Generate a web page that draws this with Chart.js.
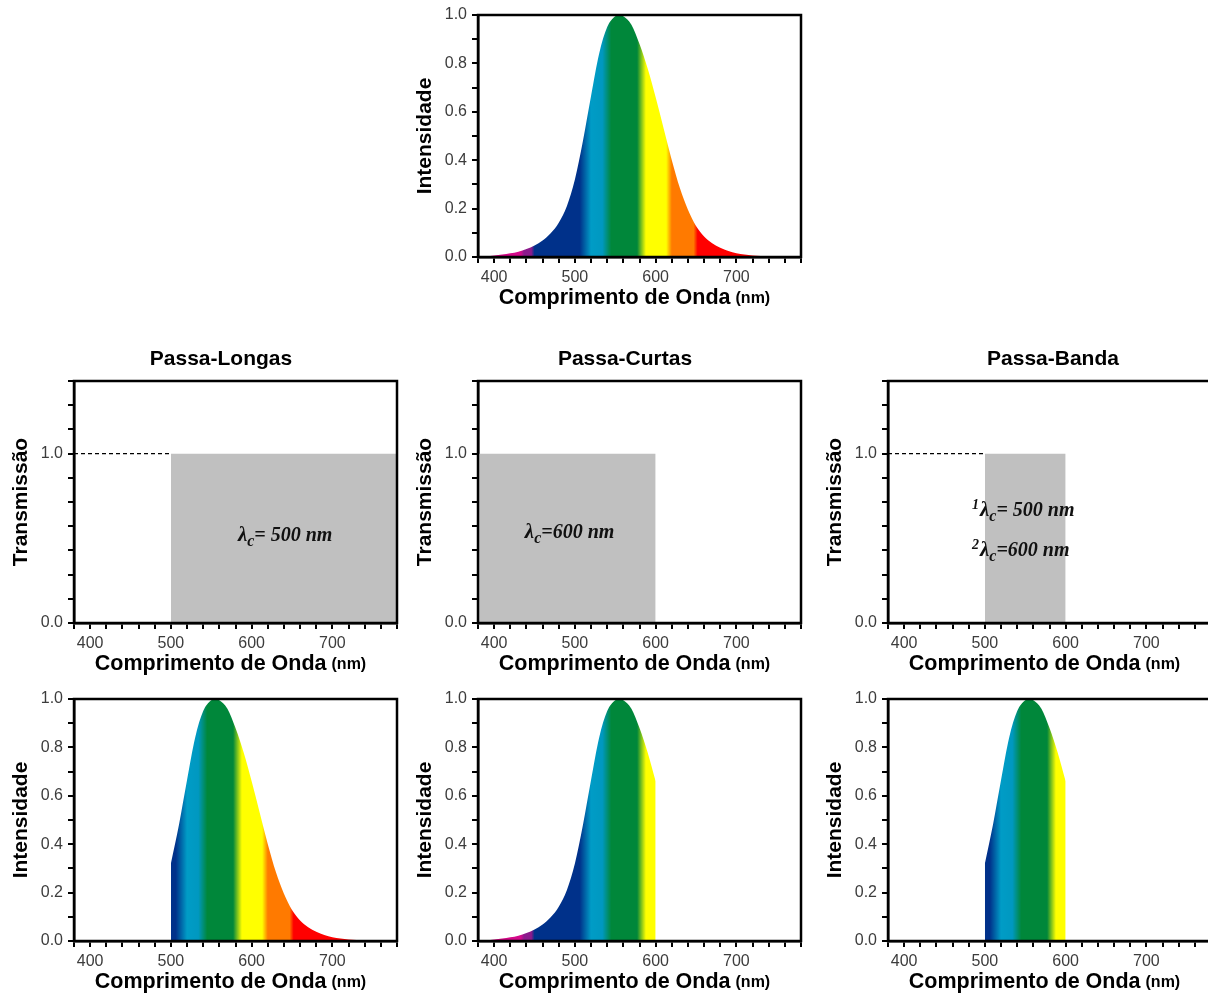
<!DOCTYPE html>
<html>
<head>
<meta charset="utf-8">
<script src="https://cdn.jsdelivr.net/npm/chart.js@4.4.1/dist/chart.umd.min.js"></script>
<style>
    html, body { margin: 0; padding: 0; background: #fff; }
    body { width: 1208px; height: 1000px; overflow: hidden; position: relative; }
    canvas { position: absolute; }
</style>
</head>
<body>
<canvas id="chart-source"></canvas>
<canvas id="chart-long-t"></canvas>
<canvas id="chart-short-t"></canvas>
<canvas id="chart-band-t"></canvas>
<canvas id="chart-long-i"></canvas>
<canvas id="chart-short-i"></canvas>
<canvas id="chart-band-i"></canvas>
<script>
// wavelength (nm) and relative intensity of the source
const wavelengths = [380, 390, 400, 410, 420, 430, 440, 450, 460, 470, 480, 490, 500, 510, 520, 530, 540, 550, 555, 560,
    570, 580, 590, 600, 610, 620, 630, 640, 650, 660, 670, 680, 690, 700, 710, 720, 740, 760, 780];
const intensity = [0.000, 0.003, 0.006, 0.010, 0.015, 0.022, 0.033, 0.048, 0.068, 0.098, 0.142, 0.210, 0.320, 0.480, 0.665, 0.840, 0.950, 0.995, 1.000, 0.995,
    0.960, 0.880, 0.780, 0.660, 0.530, 0.400, 0.285, 0.195, 0.128, 0.085, 0.057, 0.038, 0.025, 0.016, 0.010, 0.006, 0.002, 0.0007, 0.000];

// filter windows (nm) and their transmission
const longPassX = [500, 780];
const shortPassX = [380, 600];
const bandPassX = [500, 600];
const passT = [1, 1];
const refLineX = [380, 500];
const refLineT = [1, 1];

// tick labels
const xLabels = [400, 500, 600, 700];
const intensityLabels = ['0.0', '0.2', '0.4', '0.6', '0.8', '1.0'];
const transTicks = [0, 0.143, 0.286, 0.429, 0.571, 0.714, 0.857, 1.0, 1.143, 1.286, 1.429];
const transLabels = ['0.0', '', '', '', '', '', '', '1.0', '', '', ''];

// colour of the spectrum at each wavelength
const spectrumStops = [
    [380, '#d4007c'], [433, '#d40a8c'], [437, '#8c1a8c'], [446, '#8c1a8c'], [450, '#00318a'],
    [506, '#00318a'], [520, '#009cc6'], [534, '#0098c0'], [545, '#00873a'], [577, '#00873a'],
    [588, '#ffff00'], [613, '#ffff00'], [620, '#ff7a00'], [647, '#ff7a00'], [652, '#ff0000'], [780, '#ff0000']
];

const SANS = '"Liberation Sans", Arial, Helvetica, sans-serif';
const SERIF = '"Liberation Serif", "Times New Roman", serif';
Chart.defaults.font.family = SANS;

const Y_AXIS_W = 70, X_AXIS_H = 60, PAD_L = 4, PAD_R = 10;
const PLOT_W = 323, PLOT_H = 242;

function points(xs, ys) {
    return xs.map((x, i) => ({x, y: ys[i]}));
}

function spectrumPoints(lo, hi) {
    return points(wavelengths, intensity).filter(p => p.x >= lo && p.x <= hi);
}

function spectrumFill(context) {
    const chart = context.chart;
    const xs = chart.scales.x;
    if (!chart.chartArea || !xs) return '#00873a';
    const x0 = xs.getPixelForValue(380);
    const x1 = xs.getPixelForValue(780);
    const g = chart.ctx.createLinearGradient(x0, 0, x1, 0);
    spectrumStops.forEach(([nm, col]) => g.addColorStop((nm - 380) / 400, col));
    return g;
}

const framePlugin = {
    id: 'frame',
    afterDatasetsDraw(chart) {
        const {ctx, chartArea: a} = chart;
        ctx.save();
        ctx.strokeStyle = '#000';
        ctx.lineWidth = 2.5;
        ctx.strokeRect(a.left, a.top, a.right - a.left, a.bottom - a.top);
        ctx.restore();
    }
};

const xTitlePlugin = {
    id: 'xTitle',
    afterDraw(chart) {
        const {ctx, chartArea: a} = chart;
        const main = 'Comprimento de Onda';
        const unit = '(nm)';
        ctx.save();
        ctx.fillStyle = '#000';
        ctx.textBaseline = 'middle';
        ctx.font = 'bold 21.5px ' + SANS;
        const w1 = ctx.measureText(main).width;
        ctx.font = 'bold 16px ' + SANS;
        const w2 = ctx.measureText(unit).width;
        const gap = 5;
        const x = (a.left + a.right) / 2 - (w1 + gap + w2) / 2 - 5;
        const y = a.bottom + 41;
        ctx.font = 'bold 21.5px ' + SANS;
        ctx.fillText(main, x, y);
        ctx.font = 'bold 16px ' + SANS;
        ctx.fillText(unit, x + w1 + gap, y + 1);
        ctx.restore();
    }
};

const panelTitlePlugin = {
    id: 'panelTitle',
    afterDraw(chart, args, opts) {
        if (!opts.text) return;
        const {ctx, chartArea: a} = chart;
        ctx.save();
        ctx.fillStyle = '#000';
        ctx.textAlign = 'center';
        ctx.textBaseline = 'middle';
        ctx.font = 'bold 21px ' + SANS;
        ctx.fillText(opts.text, a.left + opts.dx, a.top - 22);
        ctx.restore();
    }
};

const lambdaPlugin = {
    id: 'lambdaNotes',
    afterDatasetsDraw(chart, args, opts) {
        if (!opts.notes) return;
        const {ctx, scales} = chart;
        ctx.save();
        ctx.fillStyle = '#111';
        ctx.textBaseline = 'alphabetic';
        opts.notes.forEach(n => {
            let x = scales.x.getPixelForValue(n.x);
            const y = scales.y.getPixelForValue(n.y);
            if (n.sup) {
                ctx.font = 'italic bold 14px ' + SERIF;
                ctx.fillText(n.sup, x, y - 7);
                x += ctx.measureText(n.sup).width + 1;
            }
            ctx.font = 'italic bold 21px ' + SERIF;
            ctx.fillText('\u03BB', x, y);
            x += ctx.measureText('\u03BB').width;
            ctx.font = 'italic bold 16px ' + SERIF;
            ctx.fillText('c', x, y + 5);
            x += ctx.measureText('c').width;
            ctx.font = 'italic bold 20px ' + SERIF;
            ctx.fillText(n.text, x, y);
        });
        ctx.restore();
    }
};

function tickFont() {
    return {size: 16};
}

function xScale() {
    return {
        type: 'linear',
        min: 380,
        max: 780,
        afterFit: s => { s.height = X_AXIS_H; },
        border: {display: true, color: '#000', width: 2.5},
        grid: {drawOnChartArea: false, drawTicks: true, tickLength: 6, color: '#000', lineWidth: 2},
        ticks: {
            stepSize: 20,
            autoSkip: false,
            maxRotation: 0,
            padding: 5,
            color: '#3c3c3c',
            font: tickFont(),
            callback: v => xLabels.includes(v) ? String(v) : ''
        }
    };
}

function yTitle(text) {
    return {display: true, text, color: '#000', font: {size: 21, weight: 'bold'}, padding: {top: 5, bottom: 0}};
}

function intensityScale() {
    return {
        min: 0,
        max: 1,
        afterFit: s => { s.width = Y_AXIS_W; },
        border: {display: true, color: '#000', width: 2.5},
        grid: {drawOnChartArea: false, drawTicks: true, tickLength: 6, color: '#000', lineWidth: 2},
        ticks: {
            stepSize: 0.1,
            autoSkip: false,
            padding: 5,
            color: '#3c3c3c',
            font: tickFont(),
            callback: v => {
                const k = Math.round(v * 10);
                return k % 2 === 0 ? intensityLabels[k / 2] : '';
            }
        },
        title: yTitle('Intensidade')
    };
}

function transScale() {
    return {
        min: 0,
        max: transTicks[transTicks.length - 1],
        afterFit: s => { s.width = Y_AXIS_W; },
        afterBuildTicks: s => { s.ticks = transTicks.map(v => ({value: v})); },
        border: {display: true, color: '#000', width: 2.5},
        grid: {drawOnChartArea: false, drawTicks: true, tickLength: 6, color: '#000', lineWidth: 2},
        ticks: {
            autoSkip: false,
            padding: 5,
            color: '#3c3c3c',
            font: tickFont(),
            callback: (v, i) => transLabels[i]
        },
        title: yTitle('Transmiss\u00E3o')
    };
}

function place(id, plotLeft, plotTop, padTop) {
    const c = document.getElementById(id);
    c.width = PAD_L + Y_AXIS_W + PLOT_W + PAD_R;
    c.height = padTop + PLOT_H + X_AXIS_H;
    c.style.left = (plotLeft - PAD_L - Y_AXIS_W) + 'px';
    c.style.top = (plotTop - padTop) + 'px';
    return c.getContext('2d');
}

function baseOptions(padTop, yScale, extra) {
    return {
        responsive: false,
        animation: false,
        layout: {padding: {left: PAD_L, right: PAD_R, top: padTop, bottom: 0}},
        plugins: Object.assign({legend: {display: false}, tooltip: {enabled: false}}, extra),
        scales: {x: xScale(), y: yScale},
        elements: {point: {radius: 0}}
    };
}

function makeSpectrumChart(id, plotLeft, plotTop, lo, hi) {
    const padTop = 20;
    const ctx = place(id, plotLeft, plotTop, padTop);
    return new Chart(ctx, {
        type: 'line',
        data: {
            datasets: [{
                data: spectrumPoints(lo, hi),
                borderWidth: 0,
                borderColor: 'rgba(0,0,0,0)',
                backgroundColor: spectrumFill,
                fill: 'origin',
                cubicInterpolationMode: 'monotone'
            }]
        },
        options: baseOptions(padTop, intensityScale(), {}),
        plugins: [framePlugin, xTitlePlugin]
    });
}

function makeFilterChart(id, plotLeft, plotTop, passX, withRef, title, dx, notes) {
    const padTop = 40;
    const ctx = place(id, plotLeft, plotTop, padTop);
    const datasets = [{
        data: points(passX, passT),
        borderWidth: 0,
        borderColor: 'rgba(0,0,0,0)',
        backgroundColor: '#c0c0c0',
        fill: 'origin'
    }];
    if (withRef) {
        datasets.push({
            data: points(refLineX, refLineT),
            borderWidth: 1.2,
            borderColor: '#000',
            borderDash: [4, 3],
            fill: false
        });
    }
    return new Chart(ctx, {
        type: 'line',
        data: {datasets},
        options: baseOptions(padTop, transScale(), {
            panelTitle: {text: title, dx},
            lambdaNotes: {notes}
        }),
        plugins: [framePlugin, xTitlePlugin, panelTitlePlugin, lambdaPlugin]
    });
}

function renderCharts() {
    makeSpectrumChart('chart-source', 478, 15, 380, 780);

    makeFilterChart('chart-long-t', 74, 381, longPassX, true, 'Passa-Longas', 147,
        [{x: 583, y: 0.483, text: '= 500 nm'}]);
    makeFilterChart('chart-short-t', 478, 381, shortPassX, false, 'Passa-Curtas', 147,
        [{x: 438, y: 0.50, text: '=600 nm'}]);
    makeFilterChart('chart-band-t', 888, 381, bandPassX, true, 'Passa-Banda', 165,
        [{x: 484, y: 0.63, sup: '1', text: '= 500 nm'}, {x: 484, y: 0.395, sup: '2', text: '=600 nm'}]);

    makeSpectrumChart('chart-long-i', 74, 699, longPassX[0], longPassX[1]);
    makeSpectrumChart('chart-short-i', 478, 699, shortPassX[0], shortPassX[1]);
    makeSpectrumChart('chart-band-i', 888, 699, bandPassX[0], bandPassX[1]);
}

if (document.readyState === 'loading') {
    document.addEventListener('DOMContentLoaded', renderCharts);
} else {
    renderCharts();
}
</script>
</body>
</html>
